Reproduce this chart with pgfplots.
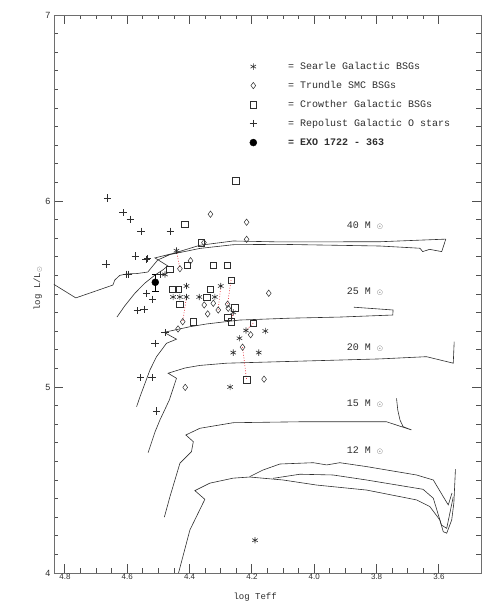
\documentclass[border=0pt]{standalone}
\usepackage{fontspec}
\setmainfont{Liberation Mono}
\newfontfamily\numfont{Liberation Sans}
\usepackage{pgfplots}
\pgfplotsset{compat=1.18}
\definecolor{ink}{HTML}{2E2E2E}
\definecolor{axgray}{HTML}{6E6E6E}
\definecolor{tickgray}{HTML}{505050}
\definecolor{pairred}{HTML}{E8303A}

\begin{document}
\begin{tikzpicture}
\begin{axis}[
    scale only axis,
    width=427pt, height=558pt,
    at={(0pt,0pt)}, anchor=south west,
    x dir=reverse,
    xmin=3.465, xmax=4.835,
    ymin=4, ymax=7,
    xtick={3.6,3.8,4.0,4.2,4.4,4.6,4.8},
    xticklabels={3.6,3.8,4.0,4.2,4.4,4.6,4.8},
    minor x tick num=3,
    ytick={4,5,6,7},
    yticklabels={4,5,6,7},
    minor y tick num=9,
    tick align=inside,
    tick style={tickgray, line width=0.9pt},
    major tick length=9pt,
    minor tick length=4.5pt,
    axis line style={axgray, line width=0.7pt},
    xticklabel style={font=\numfont\fontsize{8}{8}\selectfont, text=ink, yshift=2.5pt},
    yticklabel style={font=\numfont\fontsize{9}{9}\selectfont, text=ink},
    xlabel={log Teff},
    xlabel style={font=\fontsize{9}{9}\selectfont, text=ink,
        at={(axis description cs:0.471,0)}, anchor=base, yshift=-26.5pt},
    ylabel={log L/L$_\odot$},
    ylabel style={font=\fontsize{9}{9}\selectfont, text=ink,
        at={(axis description cs:-0.038,0.51)}, anchor=center},
    legend style={at={(axis cs:4.208,6.748)}, anchor=north west,
        draw=none, fill=none, inner sep=0pt, row sep=10pt,
        font=\fontsize{10}{10}\selectfont, text=ink,
        nodes={text height=7pt, text depth=2pt, inner sep=0pt}},
    legend cell align=left,
    trackline/.style={ink, line width=0.6pt, forget plot, mark=none},
    pairline/.style={pairred, line width=0.7pt, dash pattern=on 0.8pt off 1.8pt, forget plot, mark=none},
]
% evolutionary tracks
\addplot[trackline] coordinates {
 (4.633,5.376) (4.608,5.436) (4.575,5.505) (4.543,5.559) (4.511,5.602) (4.486,5.629)
 (4.470,5.651) (4.511,5.694) (4.447,5.721) (4.367,5.762) (4.260,5.785) (4.110,5.780)
 (3.789,5.781) (3.578,5.795) (3.591,5.728) (3.630,5.740) (3.652,5.728) (3.661,5.746)
 (3.789,5.758) (4.110,5.767) (4.260,5.765) (4.367,5.745) (4.463,5.712) (4.502,5.683)
 (4.518,5.651) (4.534,5.618) (4.569,5.610) (4.601,5.608) (4.624,5.600) (4.640,5.575)
 (4.646,5.548) (4.765,5.479) (4.848,5.565)
};
\addplot[trackline] coordinates {
 (4.570,4.894) (4.559,4.948) (4.527,5.092) (4.506,5.163) (4.474,5.235) (4.442,5.257)
 (4.482,5.294) (4.399,5.324) (4.345,5.339) (4.239,5.360) (4.078,5.370) (3.918,5.376)
 (3.748,5.387) (3.747,5.414) (3.873,5.429)
};
\addplot[trackline] coordinates {
 (4.533,4.647) (4.511,4.758) (4.495,4.823) (4.465,4.930) (4.442,5.047) (4.469,5.074)
 (4.415,5.102) (4.367,5.116) (4.281,5.128) (4.110,5.136) (3.789,5.151) (3.640,5.163)
 (3.554,5.128) (3.551,5.244)
};
\addplot[trackline] coordinates {
 (4.481,4.300) (4.463,4.410) (4.431,4.590) (4.394,4.652) (4.388,4.706) (4.412,4.742)
 (4.367,4.778) (4.260,4.808) (4.046,4.813) (3.768,4.813) (3.688,4.769) (3.715,4.787)
 (3.725,4.823) (3.732,4.876) (3.736,4.939)
};
\addplot[trackline] coordinates {
 (4.437,3.990) (4.399,4.231) (4.351,4.396) (4.383,4.443) (4.335,4.483) (4.260,4.510)
 (4.207,4.516) (4.100,4.500) (3.993,4.473) (3.832,4.446) (3.672,4.393) (3.629,4.357)
 (3.597,4.285) (3.586,4.222) (3.575,4.214) (3.559,4.285) (3.552,4.377) (3.547,4.558)
};
\addplot[trackline] coordinates {
 (4.207,4.518) (4.164,4.554) (4.110,4.586) (4.003,4.593) (3.960,4.581) (3.918,4.593)
 (3.832,4.572) (3.672,4.527) (3.618,4.500) (3.586,4.410) (3.570,4.366) (3.558,4.430)
};
\addplot[trackline] coordinates {
 (4.132,4.509) (4.046,4.531) (3.940,4.527) (3.832,4.500) (3.651,4.450) (3.618,4.402)
 (3.592,4.258) (3.575,4.240) (3.554,4.410)
};
% same stars from different studies
\addplot[pairline] coordinates {(4.442,5.733) (4.431,5.636)};
\addplot[pairline] coordinates {(4.410,5.484) (4.422,5.351)};
\addplot[pairline] coordinates {(4.300,5.543) (4.308,5.414)};
\addplot[pairline] coordinates {(4.267,5.575) (4.278,5.445)};
\addplot[pairline] coordinates {(4.196,5.343) (4.219,5.304)};
\addplot[pairline] coordinates {(4.230,5.214) (4.217,5.038)};
\addplot[pairline] coordinates {(4.260,5.401) (4.267,5.351)};

% Searle
\addplot[only marks, mark=asterisk, mark size=3.2pt, ink, line width=0.6pt] coordinates {
 (4.442,5.733) (4.479,5.605) (4.410,5.543) (4.453,5.484) (4.431,5.484) (4.410,5.484)
 (4.369,5.484) (4.319,5.484) (4.300,5.543) (4.260,5.401) (4.219,5.304) (4.240,5.262)
 (4.157,5.301) (4.260,5.185) (4.178,5.185) (4.270,5.000) (4.190,4.176)
};
\addlegendentry{\hspace*{31pt}= Searle Galactic BSGs}
% Trundle
\addplot[only marks, mark=diamond, mark size=3.2pt, ink, line width=0.5pt] coordinates {
 (4.333,5.929) (4.217,5.886) (4.354,5.776) (4.217,5.794) (4.397,5.679) (4.431,5.636)
 (4.146,5.504) (4.353,5.441) (4.324,5.450) (4.342,5.393) (4.308,5.414) (4.278,5.445)
 (4.276,5.423) (4.422,5.351) (4.437,5.312) (4.204,5.281) (4.230,5.214) (4.161,5.042)
 (4.414,4.998)
};
\addlegendentry{\hspace*{31pt}= Trundle SMC BSGs}
% Crowther
\addplot[only marks, mark=square, mark size=3.2pt, ink, line width=0.5pt] coordinates {
 (4.252,6.108) (4.415,5.876) (4.362,5.776) (4.408,5.656) (4.324,5.656) (4.279,5.656)
 (4.463,5.634) (4.267,5.575) (4.454,5.527) (4.436,5.527) (4.333,5.527) (4.345,5.482)
 (4.431,5.445) (4.255,5.426) (4.278,5.375) (4.267,5.351) (4.388,5.351) (4.217,5.038)
 (4.196,5.343)
};
\addlegendentry{\hspace*{31pt}= Crowther Galactic BSGs}
% Repolust
\addplot[only marks, mark=+, mark size=3.7pt, ink, line width=0.5pt] coordinates {
 (4.663,6.016) (4.614,5.937) (4.590,5.902) (4.556,5.837) (4.462,5.837) (4.574,5.704)
 (4.540,5.687) (4.535,5.690) (4.668,5.661) (4.603,5.606) (4.598,5.606) (4.495,5.606)
 (4.538,5.504) (4.519,5.472) (4.568,5.410) (4.546,5.418) (4.511,5.233) (4.557,5.050)
 (4.520,5.050) (4.506,4.871) (4.479,5.293)
};
\addlegendentry{\hspace*{31pt}= Repolust Galactic O stars}
% EXO 1722-363
\addplot[only marks, mark=*, mark size=3.5pt, black,
    error bars/.cd, y dir=both, y explicit] coordinates {
 (4.510,5.563) +- (0,0.046)
};
\addlegendentry{\hspace*{31pt}\textbf{= EXO 1722 - 363}}

\node[anchor=base west, inner sep=0pt, text=ink, font=\fontsize{10}{10}\selectfont]
  at (axis cs:3.896,5.850) {40 M {\scriptsize$\odot$}};
\node[anchor=base west, inner sep=0pt, text=ink, font=\fontsize{10}{10}\selectfont]
  at (axis cs:3.896,5.495) {25 M {\scriptsize$\odot$}};
\node[anchor=base west, inner sep=0pt, text=ink, font=\fontsize{10}{10}\selectfont]
  at (axis cs:3.896,5.195) {20 M {\scriptsize$\odot$}};
\node[anchor=base west, inner sep=0pt, text=ink, font=\fontsize{10}{10}\selectfont]
  at (axis cs:3.896,4.894) {15 M {\scriptsize$\odot$}};
\node[anchor=base west, inner sep=0pt, text=ink, font=\fontsize{10}{10}\selectfont]
  at (axis cs:3.896,4.644) {12 M {\scriptsize$\odot$}};
\end{axis}
\path (-54pt,-32pt) rectangle (437pt,573pt);
\end{tikzpicture}
\end{document}
